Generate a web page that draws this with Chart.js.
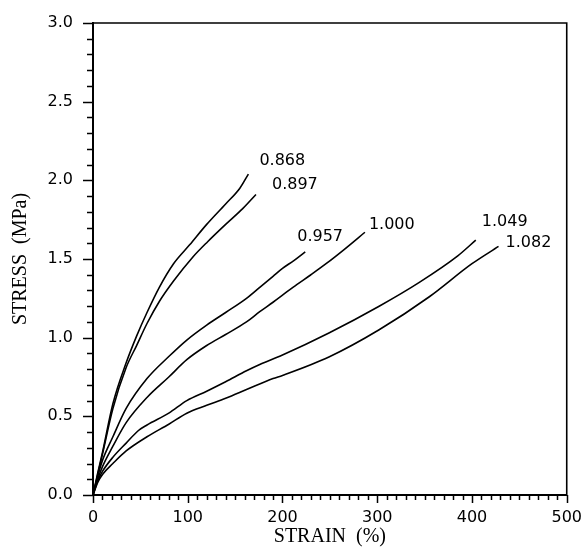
<!DOCTYPE html>
<html>
<head>
<meta charset="utf-8">
<script src="https://cdn.jsdelivr.net/npm/chart.js@4"></script>
<style>
  html, body { margin: 0; padding: 0; background: #fff; }
  #wrap { width: 587px; height: 554px; }
</style>
</head>
<body>
<div id="wrap"><canvas id="chart"></canvas></div>
<script>
// one series per sample, labelled by the number written at its end
const seriesLabels = ['0.868', '0.897', '0.957', '1.000', '1.049', '1.082'];

const strain868 = [0, 5, 10, 21, 35, 46, 57, 70, 85, 102, 120, 140, 155, 164];
const stress868 = [0, 0.14, 0.27, 0.58, 0.84, 1.01, 1.16, 1.32, 1.47, 1.59, 1.72, 1.85, 1.95, 2.04];

const strain897 = [0, 5, 10, 21, 35, 46, 57, 70, 85, 105, 121, 140, 158, 172];
const stress897 = [0, 0.13, 0.26, 0.55, 0.81, 0.95, 1.09, 1.23, 1.36, 1.51, 1.61, 1.72, 1.82, 1.91];

const strain957 = [0, 5, 10, 21, 35, 57, 80, 99, 120, 140, 162, 176, 190, 200, 212, 224];
const stress957 = [0, 0.12, 0.22, 0.37, 0.55, 0.74, 0.88, 0.985, 1.08, 1.16, 1.25, 1.32, 1.39, 1.44, 1.49, 1.545];

const strain1000 = [0, 5, 10, 21, 35, 57, 80, 99, 120, 140, 162, 176, 190, 200, 211, 230, 246, 265, 287];
const stress1000 = [0, 0.1, 0.18, 0.31, 0.46, 0.62, 0.75, 0.86, 0.95, 1.02, 1.10, 1.165, 1.225, 1.27, 1.32, 1.40, 1.47, 1.56, 1.67];

const strain1049 = [0, 5, 10, 21, 35, 48, 57, 80, 99, 120, 140, 162, 176, 200, 249, 302, 344, 385, 404];
const stress1049 = [0, 0.09, 0.15, 0.24, 0.33, 0.41, 0.445, 0.52, 0.60, 0.66, 0.72, 0.79, 0.83, 0.89, 1.03, 1.20, 1.35, 1.52, 1.62];

const strain1082 = [0, 5, 10, 21, 35, 57, 80, 99, 120, 140, 162, 190, 200, 249, 302, 355, 400, 428];
const stress1082 = [0, 0.08, 0.13, 0.20, 0.28, 0.37, 0.45, 0.52, 0.57, 0.615, 0.67, 0.74, 0.76, 0.877, 1.05, 1.26, 1.47, 1.58];

const strains = [strain868, strain897, strain957, strain1000, strain1049, strain1082];
const stresses = [stress868, stress897, stress957, stress1000, stress1049, stress1082];

// label offsets from the last point of each curve, in pixels
const labelOffsets = [[11, -13], [16, -10], [-8, -15], [4, -7], [6, -18], [7, -4]];

const tickFont = { family: 'DejaVu Sans', size: 16 };
const titleFont = { family: 'Liberation Serif', size: 20 };

const datasets = seriesLabels.map((label, i) => ({
  label,
  data: strains[i].map((x, j) => ({ x, y: stresses[i][j] })),
  borderColor: '#000',
  borderWidth: 1.6,
  pointRadius: 0,
  fill: false,
  cubicInterpolationMode: 'monotone',
}));

const frameAndTicks = {
  id: 'frameAndTicks',
  afterDraw(chart) {
    const { ctx, chartArea: a, scales: { x, y } } = chart;
    ctx.save();
    ctx.strokeStyle = '#000';

    // top and right sides of the box
    ctx.lineWidth = 1.6;
    ctx.beginPath();
    ctx.moveTo(a.left, a.top);
    ctx.lineTo(a.right, a.top);
    ctx.lineTo(a.right, a.bottom);
    ctx.stroke();

    ctx.lineWidth = 1.5;
    ctx.beginPath();
    for (let v = 0; v <= 500; v += 10) {
      const px = Math.round(x.getPixelForValue(v)) + 0.5;
      const len = v % 100 === 0 ? 8 : 5;
      ctx.moveTo(px, a.bottom);
      ctx.lineTo(px, a.bottom + len);
    }
    for (let k = 0; k <= 30; k++) {
      const py = Math.round(y.getPixelForValue(k / 10)) + 0.5;
      const len = k % 5 === 0 ? 10 : 6;
      ctx.moveTo(a.left, py);
      ctx.lineTo(a.left - len, py);
    }
    ctx.stroke();

    // sample labels at the ends of the curves
    ctx.fillStyle = '#000';
    ctx.font = '16px "DejaVu Sans"';
    ctx.textAlign = 'left';
    ctx.textBaseline = 'middle';
    chart.data.datasets.forEach((ds, i) => {
      const last = ds.data[ds.data.length - 1];
      const px = x.getPixelForValue(last.x) + labelOffsets[i][0];
      const py = y.getPixelForValue(last.y) + labelOffsets[i][1];
      ctx.fillText(ds.label, px, py);
    });
    ctx.restore();
  }
};

new Chart(document.getElementById('chart'), {
  type: 'line',
  data: { datasets },
  options: {
    responsive: true,
    maintainAspectRatio: false,
    animation: false,
    layout: { padding: { left: 0, top: 23, right: 14, bottom: 0 } },
    plugins: {
      legend: { display: false },
      tooltip: { enabled: false },
    },
    scales: {
      x: {
        type: 'linear',
        min: 0,
        max: 500,
        grid: { display: false },
        border: { display: true, color: '#000', width: 2 },
        ticks: {
          stepSize: 100,
          color: '#000',
          font: tickFont,
          padding: 5,
          maxRotation: 0,
        },
        title: {
          display: true,
          text: 'STRAIN  (%)',
          color: '#000',
          font: titleFont,
          padding: { top: 0, bottom: 5 },
        },
        afterFit: s => { s.height = 59; },
      },
      y: {
        type: 'linear',
        min: 0,
        max: 3,
        grid: { display: false },
        border: { display: true, color: '#000', width: 2 },
        ticks: {
          stepSize: 0.5,
          color: '#000',
          font: tickFont,
          padding: 12,
          callback: v => v.toFixed(1),
        },
        title: {
          display: true,
          text: 'STRESS  (MPa)',
          color: '#000',
          font: titleFont,
          padding: { top: 9, bottom: 0 },
        },
        afterFit: s => { s.width = 93; },
      },
    },
  },
  plugins: [frameAndTicks],
});
</script>
</body>
</html>
